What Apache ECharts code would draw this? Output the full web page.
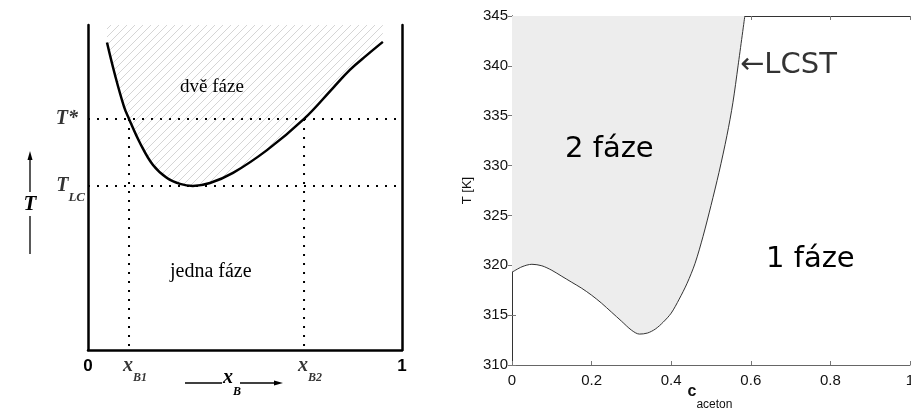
<!DOCTYPE html>
<html>
<head>
<meta charset="utf-8">
<script src="https://cdn.jsdelivr.net/npm/echarts@6/dist/echarts.min.js"></script>
<style>
  html, body { margin: 0; padding: 0; background: #ffffff; }
  #chart { width: 911px; height: 412px; }
</style>
</head>
<body>
<div id="chart"></div>
<script>
// ---- Left panel: schematic LCST binodal (composition x_B, relative temperature 0..100) ----
const schemeX = [0.0605, 0.086, 0.1146, 0.1306, 0.1656, 0.207, 0.2516, 0.293, 0.334, 0.3885, 0.4618, 0.570, 0.688, 0.780, 0.834, 0.889, 0.939];
const schemeT = [94.6, 84.6, 74.9, 71.1, 63.7, 56.9, 52.9, 51.1, 50.5, 51.4, 54.5, 61.5, 71.1, 80.6, 86.2, 90.8, 94.8];
const tStar = 71.1;
const tLC = 50.5;
const xB1 = 0.1306;
const xB2 = 0.688;

// ---- Right panel: measured cloud-point curve, acetone content vs. temperature ----
const cAceton = [0.00, 0.025, 0.05, 0.075, 0.10, 0.125, 0.15, 0.175, 0.20, 0.225, 0.25, 0.275, 0.30, 0.32, 0.34, 0.36, 0.38, 0.40, 0.42, 0.44, 0.46, 0.48, 0.50, 0.52, 0.54, 0.555, 0.568, 0.585];
const tKelvin = [319.3, 319.85, 320.1, 319.95, 319.5, 318.9, 318.3, 317.7, 317.0, 316.2, 315.3, 314.4, 313.5, 313.1, 313.2, 313.6, 314.3, 315.2, 316.6, 318.2, 320.2, 322.9, 326.0, 329.3, 333.0, 336.3, 340.0, 345.0];
const lcstPoint = [0.568, 340.0];

const zip = (xs, ys) => xs.map((x, i) => [x, ys[i]]);

// diagonal hatching for the two-phase region of the schematic
function hatchPattern() {
  const c = document.createElement('canvas');
  c.width = 8; c.height = 8;
  const g = c.getContext('2d');
  g.strokeStyle = 'rgba(120,120,120,0.45)';
  g.lineWidth = 0.7;
  g.beginPath();
  g.moveTo(-1, 1); g.lineTo(1, -1);
  g.moveTo(0, 8); g.lineTo(8, 0);
  g.moveTo(7, 9); g.lineTo(9, 7);
  g.stroke();
  return c;
}

const serifBI = { fontFamily: 'Liberation Serif', fontStyle: 'italic', fontWeight: 'bold', color: '#000' };
const dotted = { color: '#000', width: 2, type: [2, 7], cap: 'butt' };
// main symbol + lowered subscript (rich text)
const subRich = (mainSize, subSize, drop) => ({
  m: { ...serifBI, fontSize: mainSize, lineHeight: mainSize, verticalAlign: 'top' },
  s: { ...serifBI, fontSize: subSize, lineHeight: mainSize + drop, verticalAlign: 'bottom' }
});

const chart = echarts.init(document.getElementById('chart'), null, { renderer: 'canvas' });

chart.setOption({
  animation: false,
  backgroundColor: '#ffffff',
  grid: [
    { left: 88, top: 25, width: 314, height: 325, containLabel: false, outerBoundsMode: 'none' },
    { left: 512, top: 16, width: 398, height: 349, containLabel: false, outerBoundsMode: 'none' }
  ],
  xAxis: [
    { // schematic composition axis
      gridIndex: 0, type: 'value', min: 0, max: 1, interval: 1,
      axisLine: { lineStyle: { color: '#000', width: 2.5 } },
      axisTick: { show: false }, splitLine: { show: false },
      axisLabel: { fontFamily: 'Liberation Sans', fontWeight: 'bold', fontSize: 17, color: '#000', margin: 8 }
    },
    { // acetone content
      gridIndex: 1, type: 'value', min: 0, max: 1, interval: 0.2,
      axisLine: { lineStyle: { color: '#666', width: 1 } },
      axisTick: { inside: true, length: 4, lineStyle: { color: '#777' } },
      splitLine: { show: false },
      axisLabel: { fontFamily: 'Liberation Sans', fontSize: 15, color: '#111', margin: 8 }
    },
    { // top frame
      gridIndex: 1, type: 'value', min: 0, max: 1, interval: 0.2, position: 'top',
      axisLine: { lineStyle: { color: '#333', width: 1 } },
      axisTick: { inside: true, length: 4, lineStyle: { color: '#777' } },
      axisLabel: { show: false }, splitLine: { show: false }
    }
  ],
  yAxis: [
    { // schematic temperature axis
      gridIndex: 0, type: 'value', min: 0, max: 100,
      axisLine: { show: true, lineStyle: { color: '#000', width: 2.5 } },
      axisTick: { show: false }, axisLabel: { show: false }, splitLine: { show: false }
    },
    { // schematic right wall
      gridIndex: 0, type: 'value', min: 0, max: 100, position: 'right',
      axisLine: { show: true, lineStyle: { color: '#000', width: 2.5 } },
      axisTick: { show: false }, axisLabel: { show: false }, splitLine: { show: false }
    },
    { // temperature [K]
      gridIndex: 1, type: 'value', min: 310, max: 345, interval: 5,
      axisLine: { show: true, lineStyle: { color: '#666', width: 1 } },
      axisTick: { show: true, inside: true, length: 4, lineStyle: { color: '#777' } },
      splitLine: { show: false },
      axisLabel: { fontFamily: 'Liberation Sans', fontSize: 15, color: '#111', margin: 4 },
      name: 'T [K]', nameLocation: 'middle', nameGap: 38, nameRotate: 90,
      nameTextStyle: { fontFamily: 'Liberation Sans', fontSize: 13, color: '#111' }
    },
    { // right frame
      gridIndex: 1, type: 'value', min: 310, max: 345, interval: 5, position: 'right',
      axisLine: { show: true, lineStyle: { color: '#333', width: 1 } },
      axisTick: { show: true, inside: true, length: 4, lineStyle: { color: '#777' } },
      axisLabel: { show: false }, splitLine: { show: false }
    }
  ],
  series: [
    // two-phase region + binodal of the schematic
    {
      type: 'line', xAxisIndex: 0, yAxisIndex: 0, smooth: 0.4, symbol: 'none',
      data: zip(schemeX, schemeT),
      lineStyle: { color: '#000', width: 2.5 },
      areaStyle: { origin: 'end', color: { image: hatchPattern(), repeat: 'repeat' }, opacity: 1 },
      z: 3
    },
    // dotted guide lines
    { type: 'line', xAxisIndex: 0, yAxisIndex: 0, symbol: 'none', data: [[0, tStar], [1, tStar]], lineStyle: dotted, z: 2 },
    { type: 'line', xAxisIndex: 0, yAxisIndex: 0, symbol: 'none', data: [[0, tLC], [1, tLC]], lineStyle: dotted, z: 2 },
    { type: 'line', xAxisIndex: 0, yAxisIndex: 0, symbol: 'none', data: [[xB1, tStar], [xB1, 0]], lineStyle: dotted, z: 2 },
    { type: 'line', xAxisIndex: 0, yAxisIndex: 0, symbol: 'none', data: [[xB2, tStar], [xB2, 0]], lineStyle: dotted, z: 2 },
    // labels of the characteristic temperatures and compositions
    {
      type: 'scatter', xAxisIndex: 0, yAxisIndex: 0, symbolSize: 0, silent: true, z: 5,
      data: [
        { value: [0, tStar], label: { show: true, position: 'left', distance: 10, formatter: 'T*', ...serifBI, fontSize: 20 } },
        { value: [0, tLC], label: { show: true, position: 'left', distance: 3, offset: [0, 4], formatter: '{m|T}{s|LC}', rich: subRich(20, 13, 8) } },
        { value: [xB1, 0], label: { show: true, position: 'bottom', distance: 6, offset: [6, 0], formatter: '{m|x}{s|B1}', rich: subRich(20, 12, 8) } },
        { value: [xB2, 0], label: { show: true, position: 'bottom', distance: 6, offset: [6, 0], formatter: '{m|x}{s|B2}', rich: subRich(20, 12, 8) } }
      ]
    },
    // measured two-phase region and cloud-point curve
    {
      type: 'line', xAxisIndex: 1, yAxisIndex: 2, smooth: 0.3, symbol: 'none',
      data: zip(cAceton, tKelvin),
      lineStyle: { color: '#333', width: 1 },
      areaStyle: { origin: 'end', color: '#ededed', opacity: 1 },
      z: 1
    },
    {
      type: 'scatter', xAxisIndex: 1, yAxisIndex: 2, symbolSize: 0, silent: true, z: 5,
      data: [{ value: lcstPoint, label: { show: true, position: 'right', distance: 2, formatter: '\u2190LCST',
        fontFamily: 'DejaVu Sans', fontSize: 29, color: '#000' } }]
    }
  ],
  graphic: [
    // region names
    { type: 'text', z: 100, left: 180, top: 78, style: { text: 'dvě fáze', font: '19px "Liberation Serif"', fill: '#000' } },
    { type: 'text', z: 100, left: 170, top: 262, style: { text: 'jedna fáze', font: '20px "Liberation Serif"', fill: '#000' } },
    { type: 'text', z: 100, left: 565, top: 135, style: { text: '2 fáze', font: '29px "DejaVu Sans"', fill: '#000' } },
    { type: 'text', z: 100, left: 766, top: 245, style: { text: '1 fáze', font: '29px "DejaVu Sans"', fill: '#000' } },
    // acetone axis title
    { type: 'text', z: 100, x: 710, y: 384, style: {
        text: '{c|c}{s|aceton}', align: 'center', verticalAlign: 'top',
        rich: {
          c: { fontFamily: 'Liberation Sans', fontSize: 16, fontWeight: 'bold', fill: '#111', lineHeight: 16, verticalAlign: 'top' },
          s: { fontFamily: 'Liberation Sans', fontSize: 12, fill: '#111', lineHeight: 27, verticalAlign: 'bottom' }
        } } },
    // temperature arrow of the schematic
    { type: 'line', z: 100, shape: { x1: 30, y1: 192, x2: 30, y2: 158 }, style: { stroke: '#000', lineWidth: 1.3 } },
    { type: 'polygon', z: 100, shape: { points: [[30, 151], [27.5, 160], [32.5, 160]] }, style: { fill: '#000' } },
    { type: 'text', z: 100, x: 30, y: 205, style: { text: 'T', font: 'italic bold 21px "Liberation Serif"', fill: '#000', align: 'center', verticalAlign: 'middle' } },
    { type: 'line', z: 100, shape: { x1: 30, y1: 216, x2: 30, y2: 254 }, style: { stroke: '#000', lineWidth: 1.3 } },
    // composition arrow of the schematic
    { type: 'line', z: 100, shape: { x1: 185, y1: 383, x2: 222, y2: 383 }, style: { stroke: '#000', lineWidth: 1.3 } },
    { type: 'text', z: 100, x: 223, y: 368, style: { text: '{m|x}{s|B}', verticalAlign: 'top', rich: subRich(20, 12, 10) } },
    { type: 'line', z: 100, shape: { x1: 240, y1: 383, x2: 275, y2: 383 }, style: { stroke: '#000', lineWidth: 1.3 } },
    { type: 'polygon', z: 100, shape: { points: [[283, 383], [274, 380.5], [274, 385.5]] }, style: { fill: '#000' } }
  ]
});
</script>
</body>
</html>
